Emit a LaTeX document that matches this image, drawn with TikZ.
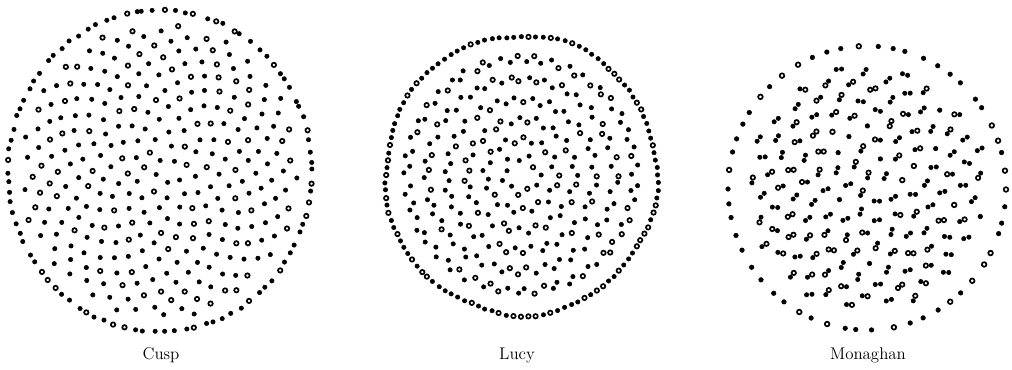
\documentclass[tikz,border=0pt]{standalone}
\newcommand{\pdot}[3]{%
  \pgfmathtruncatemacro\pk{rnd<0.3}%
  \ifnum\pk=1 \filldraw[hole] (#1,#2) circle[radius=#3];%
  \else \filldraw[full] (#1,#2) circle[radius=#3];\fi}
\begin{document}
\begin{tikzpicture}[x=0.025cm, y=-0.025cm,
    full/.style={fill=black, draw=black, line width=0.35pt},
    hole/.style={fill=white, draw=black, line width=1.2pt},
    lbl/.style={font=\fontsize{12}{14}\selectfont}]
    \useasboundingbox (0,0) rectangle (1012,369);
    \pgfmathsetseed{1987}
    \begin{scope}[shift={(160,171)},
        declare function={
            rx = 152; ry = 161; nin = 300; nout = 94;
        }]
        % 外圈粒子
        \foreach \i in {1,...,94} {
            \pgfmathsetmacro\ang{(360/nout)*\i + 1.2*rand}
            \pdot{{rx*cos(\ang)+0.8*rand}}{{ry*sin(\ang)+0.8*rand}}{2.2}
        }
        % 内部粒子（向日葵排列）
        \foreach \i in {1,...,300} {
            \pgfmathsetmacro\rad{sqrt((\i-0.5)/nin)}
            \pgfmathsetmacro\ang{360*frac(\i*0.381966)}
            \pdot{{(rx-13)*\rad*cos(\ang)+1.2*rand}}{{(ry-13)*\rad*sin(\ang)+1.2*rand}}{2.2}
        }
    \end{scope}
    \begin{scope}[shift={(521,175)}]
        % 外圈粒子（略有起伏）
        \foreach \i in {1,...,116} {
            \pgfmathsetmacro\ang{(360/116)*\i}
            \pgfmathsetmacro\w{1+0.009*sin(5*\ang+40)+0.006*sin(9*\ang)}
            \pdot{{136*\w*cos(\ang)+0.5*rand}}{{140*\w*sin(\ang)+0.5*rand}}{2.2}
        }
        % 内部同心环（锯齿双排）
        \foreach \rr/\n in {114/82, 94/67, 74/53, 54/39, 35/25, 17/11} {
            \foreach \j in {1,...,\n} {
                \pgfmathsetmacro\ang{(360/\n)*\j + 1.2*rand}
                \pgfmathsetmacro\q{\rr + 2.6*(2*mod(\j,2)-1) + 1.0*rand}
                \pdot{{\q*cos(\ang)}}{{1.02*\q*sin(\ang)}}{2.2}
            }
        }
    \end{scope}
    \begin{scope}[shift={(867,188)}]
        % 外圈粒子
        \foreach \i in {1,...,54} {
            \pgfmathsetmacro\ang{(360/54)*\i + 1.5*rand}
            \pdot{{139*cos(\ang)}}{{142*sin(\ang)}}{2.3}
        }
        % 内部粒子对
        \foreach \i in {1,...,138} {
            \pgfmathsetmacro\rad{120*sqrt((\i-0.5)/138)}
            \pgfmathsetmacro\ang{360*frac(\i*0.381966)}
            \pgfmathsetmacro\mx{\rad*cos(\ang)}
            \pgfmathsetmacro\my{1.02*\rad*sin(\ang)}
            \pgfmathsetmacro\ori{-80+100*rnd}
            \pgfmathtruncatemacro\dbl{rnd<0.9}
            \ifnum\dbl=1
                \pdot{{\mx+2.7*cos(\ori)}}{{\my+2.7*sin(\ori)}}{2.2}
                \pdot{{\mx-2.7*cos(\ori)}}{{\my-2.7*sin(\ori)}}{2.2}
            \else
                \pdot{\mx}{\my}{2.3}
            \fi
        }
    \end{scope}
    % 标签
    \node[lbl] (cusp) at (161,355) {Cusp};
    \node[lbl] (lucy) at (517,355) {Lucy};
    \node[lbl] (monaghan) at (868,355) {Monaghan};
\end{tikzpicture}
\end{document}
